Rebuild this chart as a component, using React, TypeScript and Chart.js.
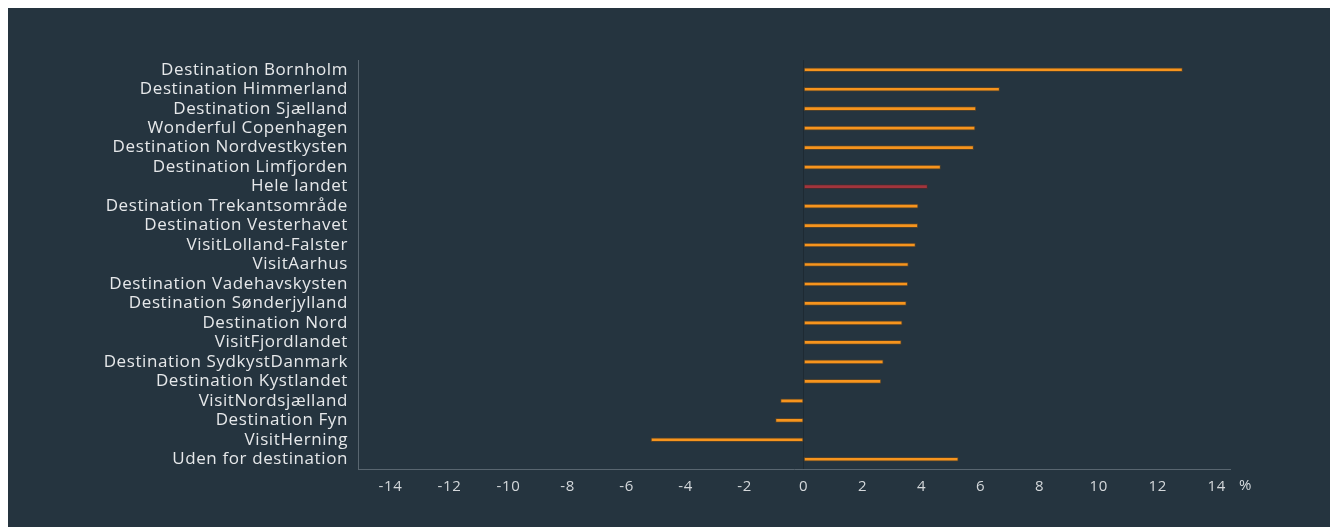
import React, { useEffect, useRef } from "react";
import { Chart, registerables } from "chart.js";

Chart.register(...registerables);

const categories = [
  "Destination Bornholm",
  "Destination Himmerland",
  "Destination Sjælland",
  "Wonderful Copenhagen",
  "Destination Nordvestkysten",
  "Destination Limfjorden",
  "Hele landet",
  "Destination Trekantsområde",
  "Destination Vesterhavet",
  "VisitLolland-Falster",
  "VisitAarhus",
  "Destination Vadehavskysten",
  "Destination Sønderjylland",
  "Destination Nord",
  "VisitFjordlandet",
  "Destination SydkystDanmark",
  "Destination Kystlandet",
  "VisitNordsjælland",
  "Destination Fyn",
  "VisitHerning",
  "Uden for destination",
];

const values = [
  12.84, 6.64, 5.84, 5.81, 5.76, 4.64, 4.2, 3.88, 3.87, 3.79, 3.55, 3.53,
  3.48, 3.34, 3.31, 2.7, 2.62, -0.78, -0.95, -5.17, 5.24,
];

const highlight = "Hele landet";
const xTicks = [-14, -12, -10, -8, -6, -4, -2, 0, 2, 4, 6, 8, 10, 12, 14];
const unitLabel = "%";

const BG = "#25343f";
const ORANGE = "#f7941d";
const RED = "#a3343c";
const FONT = "'Open Sans', sans-serif";

export default function App() {
  const ref = useRef<HTMLCanvasElement | null>(null);

  useEffect(() => {
    document.documentElement.style.overflow = "hidden";
    document.body.style.overflow = "hidden";
    const unitPlugin = {
      id: "unitLabel",
      beforeDraw(chart: any) {
        chart.ctx.letterSpacing = "0.6px";
      },
      afterDraw(chart: any) {
        const x = chart.scales.x;
        const ctx = chart.ctx;
        ctx.save();
        ctx.fillStyle = "#d8dcdf";
        ctx.font = `15px ${FONT}`;
        ctx.textAlign = "left";
        ctx.textBaseline = "middle";
        ctx.fillText(unitLabel, x.right + 9, x.top + 17);
        ctx.restore();
      },
    };
    const chart = new Chart(ref.current!, {
      type: "bar",
      data: {
        labels: categories,
        datasets: [
          {
            data: values,
            backgroundColor: categories.map((c) => (c === highlight ? RED : ORANGE)),
            borderColor: categories.map((c) =>
              c === highlight ? "rgba(90,40,40,0.6)" : "rgba(110,75,30,0.6)"
            ),
            borderWidth: 1,
            borderSkipped: false,
            barThickness: 4,
          },
        ],
      },
      options: {
        indexAxis: "y",
        animation: false,
        responsive: true,
        maintainAspectRatio: false,
        layout: { padding: { top: 52, right: 100, left: 0, bottom: 0 } },
        plugins: {
          legend: { display: false },
          tooltip: { enabled: false },
        },
        scales: {
          x: {
            min: -15.1,
            max: 14.45,
            afterBuildTicks(scale: any) {
              scale.ticks = xTicks.map((v) => ({ value: v }));
            },
            afterFit(scale: any) {
              scale.height = 58;
            },
            grid: {
              drawTicks: false,
              color: (ctx: any) =>
                ctx.tick && ctx.tick.value === 0 ? "rgba(0,0,0,0.18)" : "rgba(0,0,0,0)",
              lineWidth: 1,
            },
            border: { display: true, color: "#596670", width: 1 },
            ticks: {
              color: "#d4d8db",
              font: { family: FONT, size: 15 },
              padding: 9,
              maxRotation: 0,
              autoSkip: false,
            },
          },
          y: {
            afterFit(scale: any) {
              scale.width = 350;
            },
            grid: { display: false, drawTicks: false },
            border: { display: true, color: "#596670", width: 1 },
            ticks: {
              color: "#e6e8ea",
              font: { family: FONT, size: 17 },
              padding: 10,
              autoSkip: false,
            },
          },
        },
      },
      plugins: [unitPlugin],
    });
    return () => chart.destroy();
  }, []);

  return (
    <div>
      <div
        style={{
          position: "fixed",
          left: 8,
          top: 8,
          right: -20,
          bottom: -20,
          background: BG,
        }}
      />
      <div style={{ width: 1322, height: 519, position: "relative" }}>
        <canvas ref={ref} />
      </div>
    </div>
  );
}
